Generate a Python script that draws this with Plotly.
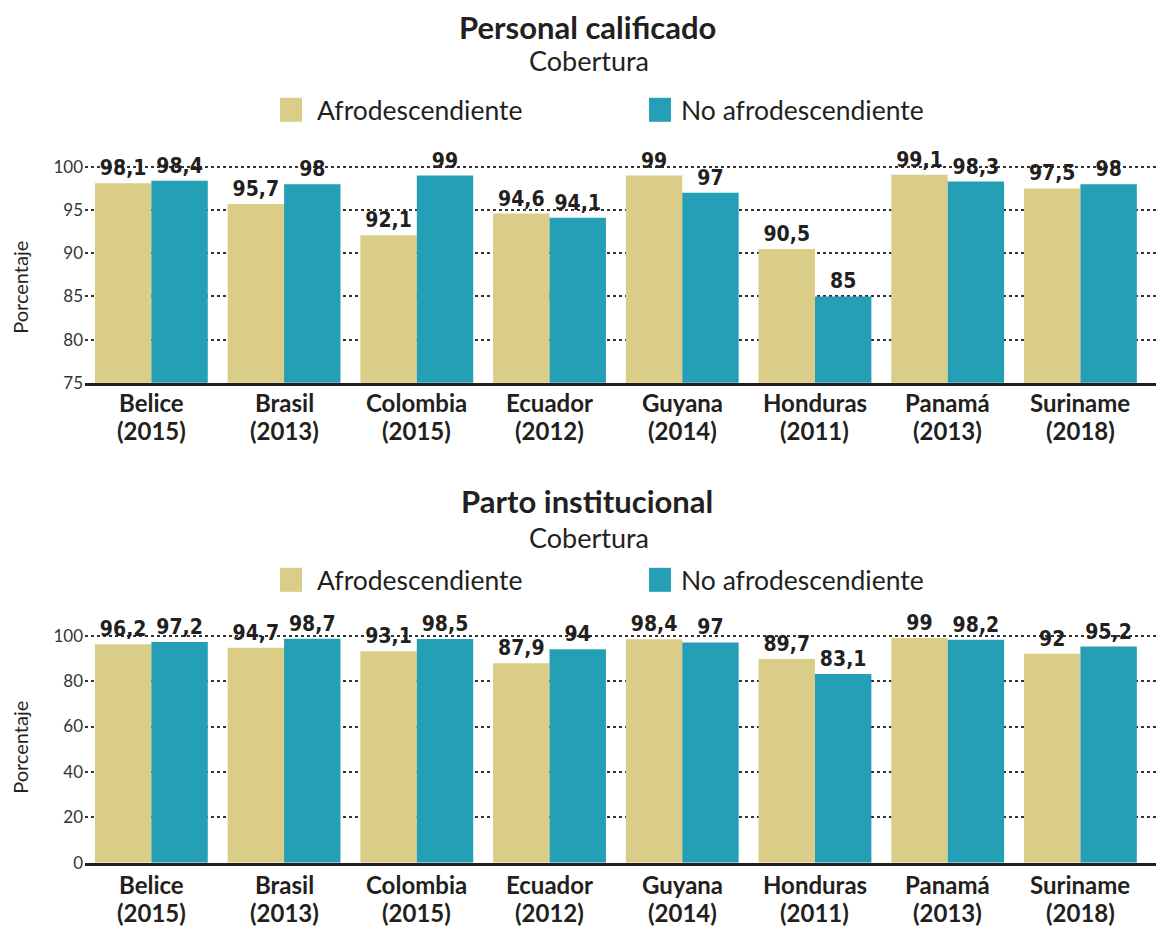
import plotly.graph_objects as go

# ---------------- data ----------------
categories = ["Belice<br>(2015)", "Brasil<br>(2013)", "Colombia<br>(2015)", "Ecuador<br>(2012)",
              "Guyana<br>(2014)", "Honduras<br>(2011)", "Panamá<br>(2013)", "Suriname<br>(2018)"]
personal_afro = [98.1, 95.7, 92.1, 94.6, 99, 90.5, 99.1, 97.5]
personal_no_afro = [98.4, 98, 99, 94.1, 97, 85, 98.3, 98]
parto_afro = [96.2, 94.7, 93.1, 87.9, 98.4, 89.7, 99, 92]
parto_no_afro = [97.2, 98.7, 98.5, 94, 97, 83.1, 98.2, 95.2]
series_names = ["Afrodescendiente", "No afrodescendiente"]
titles = ["Personal calificado", "Parto institucional"]
subtitle = "Cobertura"
y_title = "Porcentaje"
top_ticks = [75, 80, 85, 90, 95, 100]
bottom_ticks = [0, 20, 40, 60, 80, 100]

# ---------------- style ----------------
W, H = 1164, 926
GOLD = "#D9CD87"
TEAL = "#259FB6"
INK = "#231F20"
GREY = "#333333"
LABEL_FONT = "Noto Sans ExtraCondensed, Noto Sans Condensed, DejaVu Sans Condensed, sans-serif"


def X(t):
    # target screen px -> paper fraction
    return (t - 8) / W


def Y(t):
    return 1 - ((t - 10.2) / 0.987) / H


def fmt(v):
    return f"{v:g}".replace(".", ",")


fig = go.Figure()

panels = [
    (personal_afro, personal_no_afro, "x", "y"),
    (parto_afro, parto_no_afro, "x2", "y2"),
]
for afro, no_afro, xa, ya in panels:
    for vals, name, color in [(afro, series_names[0], GOLD), (no_afro, series_names[1], TEAL)]:
        fig.add_trace(go.Bar(
            x=categories, y=vals, name=name, xaxis=xa, yaxis=ya,
            marker=dict(color=color, line=dict(width=0)),
            text=[fmt(v) for v in vals], textposition="outside",
            textfont=dict(family=LABEL_FONT, size=21, color=INK, weight="bold"),
            cliponaxis=False, constraintext="none", showlegend=False,
        ))

xcommon = dict(
    type="category", range=[-0.5, 7.69], domain=[X(85), 1.0],
    showline=True, linewidth=3, linecolor=INK, ticks="", showgrid=False,
    showticklabels=False, zeroline=False, fixedrange=True,
)
ycommon = dict(
    showline=False, ticks="", showgrid=True, gridcolor=GREY, gridwidth=1.5,
    griddash="dot", zeroline=False, ticklabelstandoff=1,
    tickfont=dict(family="Lato", size=17, color=GREY), fixedrange=True,
)

fig.update_layout(
    width=W, height=H,
    margin=dict(l=0, r=0, t=0, b=0),
    paper_bgcolor="white", plot_bgcolor="white",
    barmode="group", bargap=0.15, bargroupgap=0,
    xaxis=dict(**xcommon, anchor="y"),
    xaxis2=dict(**xcommon, anchor="y2"),
    yaxis=dict(**ycommon, anchor="x", domain=[Y(383), Y(155)], range=[75, 101.4],
               tickvals=top_ticks),
    yaxis2=dict(**ycommon, anchor="x2", domain=[Y(863), Y(627)], range=[0, 103.9],
                tickvals=bottom_ticks),
)

annotations = []
shapes = []
panel_layout = [
    (titles[0], 27, 61, 110, 288, "x", 403, 431),
    (titles[1], 501, 538, 580, 748, "x2", 885, 913),
]
for title, t_y, s_y, l_y, yc, xref, cat_y1, cat_y2 in panel_layout:
    annotations.append(dict(text=title, x=X(587), y=Y(t_y), xref="paper", yref="paper",
                            xanchor="center", yanchor="middle", showarrow=False,
                            font=dict(family="Lato", size=31, color=INK, weight="bold")))
    annotations.append(dict(text=subtitle, x=X(589), y=Y(s_y), xref="paper", yref="paper",
                            xanchor="center", yanchor="middle", showarrow=False,
                            font=dict(family="Lato", size=27, color=INK)))
    for (sx0, sx1, tx), name, color in [((280, 302, 315), series_names[0], GOLD),
                                         ((649, 671, 679), series_names[1], TEAL)]:
        shapes.append(dict(type="rect", xref="paper", yref="paper",
                           x0=X(sx0), x1=X(sx1), y0=Y(l_y - 12), y1=Y(l_y + 12),
                           fillcolor=color, line=dict(width=0)))
        annotations.append(dict(text=name, x=X(tx), y=Y(l_y), xref="paper", yref="paper",
                                xanchor="left", yanchor="middle", showarrow=False,
                                font=dict(family="Lato", size=26.5, color=INK)))
    annotations.append(dict(text=y_title, x=X(20), y=Y(yc), xref="paper", yref="paper",
                            xanchor="center", yanchor="middle", showarrow=False, textangle=-90,
                            font=dict(family="Lato", size=20, color=INK)))
    # category labels (two lines, tight spacing like the reference)
    for cat in categories:
        name, year = cat.split("<br>")
        for txt, cy in [(name, cat_y1), (year, cat_y2)]:
            annotations.append(dict(text=txt, x=cat, y=Y(cy), xref=xref, yref="paper",
                                    xanchor="center", yanchor="middle", showarrow=False,
                                    font=dict(family="Lato", size=24, color=INK, weight="bold")))

fig.update_layout(annotations=annotations, shapes=shapes)

fig.write_html("out.html")
